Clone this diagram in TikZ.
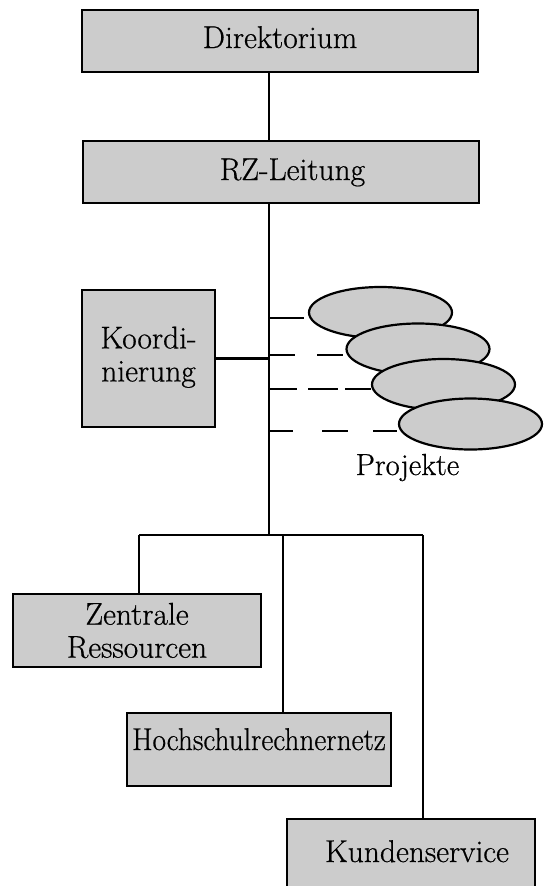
\documentclass[tikz,border=0pt]{standalone}
\usepackage{fontspec}
\setmainfont{Latin Modern Roman}[FakeBold=0.6]
\usepackage{graphicx}
\usetikzlibrary{shapes.geometric}
\definecolor{boxgray}{RGB}{204,204,204}
\pgfdeclarelayer{bg}
\pgfsetlayers{bg,main}
\begin{document}
\begin{tikzpicture}[x=1pt,y=-1pt,
  box/.style={draw=black, line width=2.8pt, fill=boxgray, rectangle, inner sep=0pt,
              font=\fontsize{31.5}{33}\selectfont},
  projell/.style={draw=black, line width=2.2pt, fill=boxgray, ellipse,
              minimum width=143pt, minimum height=51pt, inner sep=0pt},
  conn/.style={line width=2.2pt, draw=black},
  lbl/.style={font=\fontsize{30.5}{33}\selectfont, inner sep=0pt}]
\useasboundingbox (0,0) rectangle (548,886);
\begin{pgfonlayer}{bg}
\fill[white] (0,0) rectangle (548,886);
\end{pgfonlayer}

% boxes
\node[box, minimum width=396pt, minimum height=62pt, text height=21pt, text depth=7pt]
  (dir) at (280,41) {Direktorium\hspace{17pt}};
\node[box, minimum width=396pt, minimum height=62pt, text height=21pt, text depth=5pt]
  (rz) at (281,172) {\hspace{23pt}RZ-Leitung};
\node[box, minimum width=133pt, minimum height=137pt, align=center]
  (koord) at (148.5,358.5) {Koordi-\\nierung\\[-24pt]};
\node[box, minimum width=248pt, minimum height=73pt, align=center]
  (zr) at (137,630.5) {Zentrale\\Ressourcen};
\node[box, minimum width=264pt, minimum height=73pt, text height=21pt, text depth=20pt]
  (hn) at (259,749.5) {\scalebox{0.93}[1]{Hochschulrechnernetz}};
\node[box, minimum width=248pt, minimum height=81pt, text height=21pt, text depth=16pt]
  (ks) at (411,859.5) {\hspace{12pt}Kundenservice};

% project ellipses
\node[projell] (p1) at (380.5,312.5) {};
\node[projell] (p2) at (418,349) {};
\node[projell] (p3) at (443.5,384.5) {};
\node[projell] (p4) at (470.5,424) {};
\node[lbl, anchor=base] (projlabel) at (407.5,475) {Projekte};

% coordinates
\coordinate (tr) at (269,0);
\coordinate (junc) at (269,535);
\coordinate (barL) at (139,535);
\coordinate (barH) at (283,535);
\coordinate (barR) at (423,535);
\coordinate (t1) at (269,318);
\coordinate (t2) at (269,355);
\coordinate (t3) at (269,389);
\coordinate (t4) at (269,431);

% connectors
\draw[conn] (dir.south -| tr) -- (rz.north -| tr);
\draw[conn] (rz.south -| tr) -- (junc);
\draw[conn] (koord.east) -- (koord.east -| tr);
\draw[conn] (barL) -- (barR);
\draw[conn] (barL) -- (zr.north -| barL);
\draw[conn] (barH) -- (hn.north -| barH);
\draw[conn] (barR) -- (ks.north -| barR);

\begin{pgfonlayer}{bg}
\draw[conn, shorten >=4pt] (t1) -- (t1 -| p1.west);
\draw[conn, dash pattern=on 26pt off 22pt] (t2) -- (t2 -| p2.west);
\draw[conn, dash pattern=on 28pt off 11pt on 30pt off 7pt] (t3) -- (t3 -| p3.west);
\draw[conn, dash pattern=on 24pt off 29pt on 26pt off 25pt] (t4) -- (t4 -| p4.west);
\end{pgfonlayer}
\end{tikzpicture}
\end{document}
